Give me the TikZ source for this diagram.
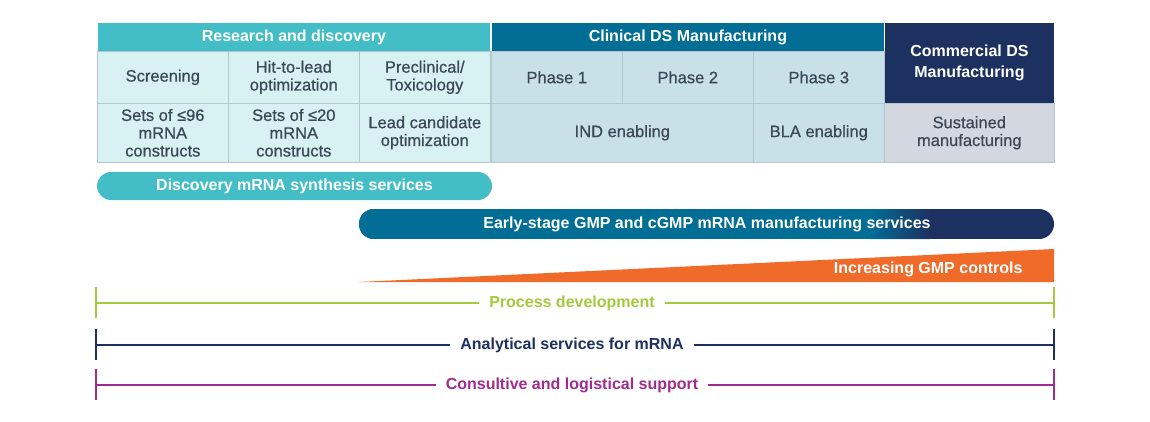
\documentclass[tikz,border=0pt]{standalone}
\usepackage{fontspec}
\setmainfont{Liberation Sans}
\newfontfamily\medfont[FakeBold=0.6]{Liberation Sans}
\definecolor{teal}{HTML}{44BEC6}
\definecolor{clin}{HTML}{026E96}
\definecolor{navy}{HTML}{1D3161}
\definecolor{lcyan}{HTML}{D8F1F3}
\definecolor{phase}{HTML}{C8E0E7}
\definecolor{sust}{HTML}{D3D7E0}
\definecolor{grid}{HTML}{B4C7CE}
\definecolor{txt}{HTML}{3C4858}
\definecolor{orng}{HTML}{F06A2A}
\definecolor{grn}{HTML}{A4C93C}
\definecolor{purp}{HTML}{A02C8F}
\begin{document}
\begin{tikzpicture}[x=1pt,y=-1pt,
  cell/.style={draw=grid,line width=0.6pt,inner sep=0pt,anchor=north west,align=center,text=txt,font=\medfont\fontsize{16.5}{17.8}\selectfont},
  head/.style={draw=white,line width=0.8pt,inner sep=0pt,anchor=north west,align=center,text=white,font=\fontsize{16}{20.5}\selectfont\bfseries},
  barlabel/.style={text=white,font=\fontsize{16}{18}\selectfont\bfseries},
  linelabel/.style={fill=white,inner xsep=10pt,inner ysep=2pt,font=\fontsize{16}{18}\selectfont\bfseries}]
\useasboundingbox (0,0) rectangle (1150,421);
% header row
\node[head,fill=teal,minimum width=393pt,minimum height=29pt] (rd) at (97,22) {Research and discovery};
\node[head,fill=clin,minimum width=393pt,minimum height=29pt] (cl) at (491,22) {Clinical DS Manufacturing};
\node[head,fill=navy,minimum width=170pt,minimum height=81pt] (cm) at (884,22) {Commercial DS\\Manufacturing};
% row 2
\node[cell,fill=lcyan,minimum width=131pt,minimum height=52pt] (scr) at (97,51) {Screening};
\node[cell,fill=lcyan,minimum width=131pt,minimum height=52pt] (hit) at (228,51) {Hit-to-lead\\optimization};
\node[cell,fill=lcyan,minimum width=131pt,minimum height=52pt] (pre) at (359,51) {Preclinical/\\Toxicology};
\node[cell,fill=phase,minimum width=131pt,minimum height=52pt] (p1) at (491,51) {Phase 1};
\node[cell,fill=phase,minimum width=131pt,minimum height=52pt] (p2) at (622,51) {Phase 2};
\node[cell,fill=phase,minimum width=131pt,minimum height=52pt] (p3) at (753,51) {Phase 3};
% row 3
\node[cell,fill=lcyan,minimum width=131pt,minimum height=59pt] (s96) at (97,103) {Sets of ≤96\\mRNA\\constructs};
\node[cell,fill=lcyan,minimum width=131pt,minimum height=59pt] (s20) at (228,103) {Sets of ≤20\\mRNA\\constructs};
\node[cell,fill=lcyan,minimum width=131pt,minimum height=59pt] (lead) at (359,103) {Lead candidate\\optimization};
\node[cell,fill=phase,minimum width=262pt,minimum height=59pt] (ind) at (491,103) {IND enabling};
\node[cell,fill=phase,minimum width=131pt,minimum height=59pt] (bla) at (753,103) {BLA enabling};
\node[cell,fill=sust,minimum width=170pt,minimum height=59pt] (sus) at (884,103) {Sustained\\manufacturing};
% discovery pill
\fill[teal,rounded corners=14pt] (97,172) rectangle (492,200);
\node[barlabel] (disc) at (294.5,186) {Discovery mRNA synthesis services};
% early-stage pill with gradient
\begin{scope}
  \clip[rounded corners=15pt] (359,209) rectangle (1054,239);
  \fill[navy] (359,209) rectangle (1054,239);
  \fill[clin] (359,209) rectangle (870,239);
  \shade[left color=clin,right color=navy] (869.5,209) rectangle (930,239);
\end{scope}
\node[barlabel] (early) at (707,224) {Early-stage GMP and cGMP mRNA manufacturing services};
% orange wedge
\coordinate (wt) at (359,282);
\coordinate (wr) at (1054,249);
\coordinate (wb) at (1054,282);
\fill[orng] (wt) -- (wr) -- (wb) -- cycle;
\node[barlabel,anchor=east] (inc) at (1026,269) {Increasing GMP controls};
% brackets
\foreach \yy/\col/\nm/\lab in {303/grn/pd/Process development,345/navy/an/Analytical services for mRNA,385/purp/cs/Consultive and logistical support}{
  \coordinate (\nm L) at (96,\yy);
  \coordinate (\nm R) at (1054,\yy);
  \draw[\col,line width=1.3pt] (\nm L) -- (\nm R);
  \draw[\col,line width=1.3pt] ([yshift=-15pt]\nm L) -- ([yshift=16pt]\nm L);
  \draw[\col,line width=1.3pt] ([yshift=-15pt]\nm R) -- ([yshift=16pt]\nm R);
  \node[linelabel,text=\col] (\nm) at (572,\yy) {\lab};
}
\end{tikzpicture}
\end{document}
